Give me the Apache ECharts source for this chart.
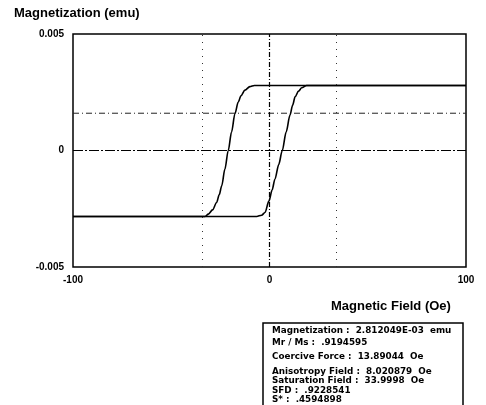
<!DOCTYPE html>
<html>
<head>
<meta charset="utf-8">
<script src="https://cdn.jsdelivr.net/npm/echarts@6/dist/echarts.min.js"></script>
<style>
  html, body { margin: 0; padding: 0; background: #fff; }
  #chart { width: 486px; height: 405px; }
</style>
</head>
<body>
<div id="chart"></div>
<script>
  // descending branch (field swept from +100 down to -100)
  var fieldDown = [100, -7.7, -10, -12.5, -14.5, -15.9, -17.6, -19.3, -21, -22.7, -24.3, -25.6, -26.9, -29, -31.1, -32.8, -100]
  var magDown = [0.00279, 0.00279, 0.00274, 0.00259, 0.00235, 0.00208, 0.00158, 0.0008, 0, -0.0008, -0.00151, -0.0019, -0.00223, -0.00255, -0.00273, -0.00283, -0.00283]
  // ascending branch (field swept from -100 up to +100)
  var fieldUp = [-100, -6.5, -4, -2.3, -0.25, 1.3, 2.8, 4.7, 6.5, 8.5, 10.4, 11.8, 13, 14.8, 16.4, 18.9, 100]
  var magUp = [-0.00283, -0.00283, -0.00278, -0.00266, -0.00216, -0.0017, -0.00122, -0.0006, 0, 0.0008, 0.00151, 0.00195, 0.0023, 0.00255, 0.00269, 0.00279, 0.00279]

  var xTicks = [-100, 0, 100]
  var yTicks = [-0.005, 0, 0.005]
  var refFields = [-34, 34]
  var refMag = 0.0016

  var infoLines = [
    'Magnetization :  2.812049E-03  emu',
    'Mr / Ms :  .9194595',
    'Coercive Force :  13.89044  Oe',
    'Anisotropy Field :  8.020879  Oe',
    'Saturation Field :  33.9998  Oe',
    'SFD :  .9228541',
    'S* :  .4594898'
  ]
  var infoY = [331, 343, 357, 372, 381, 391, 400]

  function zip(xs, ys) {
    return xs.map(function (x, i) { return [x, ys[i]] })
  }

  var chart = echarts.init(document.getElementById('chart'))

  var labelFont = {
    color: '#000',
    fontSize: 10,
    fontWeight: 'bold',
    fontFamily: 'Liberation Sans, Arial, sans-serif'
  }

  var graphics = [
    {
      type: 'text', left: 14, top: 7,
      style: { text: 'Magnetization (emu)', fill: '#000', font: 'bold 13px Liberation Sans, Arial, sans-serif' }
    },
    {
      type: 'text', left: 331, top: 300,
      style: { text: 'Magnetic Field (Oe)', fill: '#000', font: 'bold 13px Liberation Sans, Arial, sans-serif' }
    },
    {
      type: 'rect', shape: { x: 263, y: 323, width: 200, height: 100 },
      style: { fill: '#fff', stroke: '#000', lineWidth: 1.5 }
    }
  ]
  infoLines.forEach(function (t, i) {
    graphics.push({
      type: 'text', x: 272, y: infoY[i],
      style: { text: t, fill: '#000', font: 'bold 8.8px DejaVu Sans, sans-serif', textVerticalAlign: 'middle' }
    })
  })

  var branchStyle = {
    type: 'line',
    showSymbol: false,
    smooth: 0.3,
    smoothMonotone: 'x',
    silent: true,
    z: 3,
    lineStyle: { color: '#000', width: 1.6 }
  }

  chart.setOption({
    backgroundColor: '#fff',
    animation: false,
    grid: {
      left: 73,
      right: 20,
      top: 34,
      bottom: 138,
      show: true,
      borderColor: '#000',
      borderWidth: 1.5,
      backgroundColor: 'transparent'
    },
    xAxis: {
      type: 'value',
      min: xTicks[0],
      max: xTicks[xTicks.length - 1],
      interval: 100,
      axisLine: { show: false },
      axisTick: { show: false },
      splitLine: { show: false },
      axisLabel: Object.assign({ margin: 8 }, labelFont)
    },
    yAxis: {
      type: 'value',
      min: yTicks[0],
      max: yTicks[yTicks.length - 1],
      interval: 0.005,
      axisLine: { show: false },
      axisTick: { show: false },
      splitLine: { show: false },
      axisLabel: Object.assign({ margin: 9 }, labelFont)
    },
    graphic: graphics,
    series: [
      Object.assign({ data: zip(fieldDown, magDown) }, branchStyle),
      Object.assign({ data: zip(fieldUp, magUp) }, branchStyle),
      {
        // horizontal reference line
        type: 'line',
        data: [[xTicks[0], refMag], [xTicks[2], refMag]],
        showSymbol: false,
        silent: true,
        z: 2,
        lineStyle: { color: '#222', width: 1, type: [6, 3, 1, 3] }
      },
      {
        type: 'line',
        data: [],
        silent: true,
        markLine: {
          silent: true,
          symbol: 'none',
          label: { show: false },
          data: [
            { yAxis: 0, lineStyle: { color: '#000', width: 1.2, type: [10, 2, 2, 2] } },
            { xAxis: 0, lineStyle: { color: '#000', width: 1.2, type: [5, 2, 1, 2] } },
            { xAxis: refFields[0], lineStyle: { color: '#333', width: 1, type: [1, 6] } },
            { xAxis: refFields[1], lineStyle: { color: '#333', width: 1, type: [1, 6] } }
          ]
        }
      }
    ]
  })
</script>
</body>
</html>
